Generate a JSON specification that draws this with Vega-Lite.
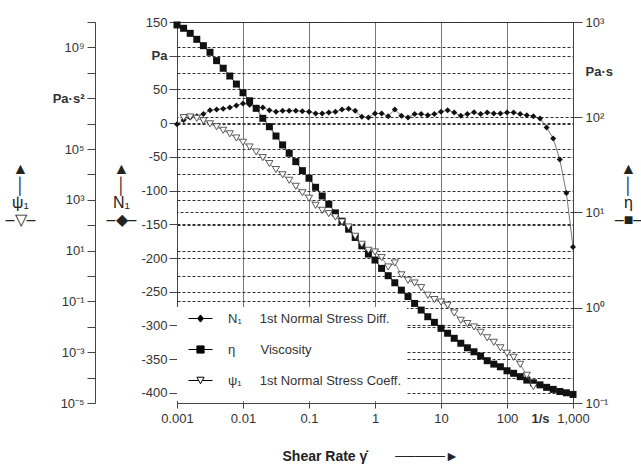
{
  "$schema": "https://vega.github.io/schema/vega-lite/v6.json",
  "width": 396,
  "height": 381,
  "autosize": {"type": "none"},
  "padding": {"left": 177, "top": 22, "right": 68, "bottom": 68},
  "background": "white",
  "datasets": {
    "n1": [
      {"rate": 0.001, "N1": -1.5}, {"rate": 0.001259, "N1": 4.5}, {"rate": 0.001585, "N1": 8.5}, {"rate": 0.001995, "N1": 10.4},
      {"rate": 0.002512, "N1": 13.4}, {"rate": 0.003162, "N1": 19.3}, {"rate": 0.003981, "N1": 20.3}, {"rate": 0.005012, "N1": 21.2},
      {"rate": 0.00631, "N1": 23.2}, {"rate": 0.007943, "N1": 26.2}, {"rate": 0.01, "N1": 29.2}, {"rate": 0.01259, "N1": 27.2},
      {"rate": 0.01585, "N1": 23.2}, {"rate": 0.01995, "N1": 23.2}, {"rate": 0.02512, "N1": 19.3}, {"rate": 0.03162, "N1": 16.8},
      {"rate": 0.03981, "N1": 18.3}, {"rate": 0.05012, "N1": 18.3}, {"rate": 0.0631, "N1": 18.3}, {"rate": 0.07943, "N1": 17.8},
      {"rate": 0.1, "N1": 16.8}, {"rate": 0.1259, "N1": 14.4}, {"rate": 0.1585, "N1": 14.4}, {"rate": 0.1995, "N1": 15.8},
      {"rate": 0.2512, "N1": 16.8}, {"rate": 0.3162, "N1": 20.3}, {"rate": 0.3981, "N1": 21.2}, {"rate": 0.5012, "N1": 18.3},
      {"rate": 0.631, "N1": 9.4}, {"rate": 0.7943, "N1": 8.5}, {"rate": 1, "N1": 14.4}, {"rate": 1.259, "N1": 14.4},
      {"rate": 1.585, "N1": 10.4}, {"rate": 1.995, "N1": 20.3}, {"rate": 2.512, "N1": 11}, {"rate": 3.162, "N1": 8.5},
      {"rate": 3.981, "N1": 13.4}, {"rate": 5.012, "N1": 13.4}, {"rate": 6.31, "N1": 11.9}, {"rate": 7.943, "N1": 13.4},
      {"rate": 10, "N1": 16.8}, {"rate": 12.59, "N1": 19.3}, {"rate": 15.85, "N1": 15.8}, {"rate": 19.95, "N1": 10.9},
      {"rate": 25.12, "N1": 13.4}, {"rate": 31.62, "N1": 16.3}, {"rate": 39.81, "N1": 13.4}, {"rate": 50.12, "N1": 15.8},
      {"rate": 63.1, "N1": 14.4}, {"rate": 79.43, "N1": 14.4}, {"rate": 100, "N1": 15.8}, {"rate": 125.9, "N1": 15.8},
      {"rate": 158.5, "N1": 13.4}, {"rate": 199.5, "N1": 11.9}, {"rate": 251.2, "N1": 10.4}, {"rate": 316.2, "N1": 7},
      {"rate": 398.1, "N1": -6.4}, {"rate": 501.2, "N1": -22.7}, {"rate": 631, "N1": -53.9}, {"rate": 794.3, "N1": -103.4},
      {"rate": 1000, "N1": -183.5}
    ],
    "eta": [
      {"rate": 0.001, "eta": 931}, {"rate": 0.001259, "eta": 859}, {"rate": 0.001585, "eta": 760}, {"rate": 0.001995, "eta": 658},
      {"rate": 0.002512, "eta": 564}, {"rate": 0.003162, "eta": 481}, {"rate": 0.003981, "eta": 393}, {"rate": 0.005012, "eta": 327},
      {"rate": 0.00631, "eta": 271}, {"rate": 0.007943, "eta": 223}, {"rate": 0.01, "eta": 181}, {"rate": 0.01259, "eta": 149},
      {"rate": 0.01585, "eta": 124}, {"rate": 0.01995, "eta": 97.5}, {"rate": 0.02512, "eta": 79.6}, {"rate": 0.03162, "eta": 63.5},
      {"rate": 0.03981, "eta": 51.2}, {"rate": 0.05012, "eta": 41.9}, {"rate": 0.0631, "eta": 34.2}, {"rate": 0.07943, "eta": 27.5},
      {"rate": 0.1, "eta": 22.9}, {"rate": 0.1259, "eta": 18.4}, {"rate": 0.1585, "eta": 14.9}, {"rate": 0.1995, "eta": 12.2},
      {"rate": 0.2512, "eta": 9.91}, {"rate": 0.3162, "eta": 8.11}, {"rate": 0.3981, "eta": 6.68}, {"rate": 0.5012, "eta": 5.47},
      {"rate": 0.631, "eta": 4.47}, {"rate": 0.7943, "eta": 3.66}, {"rate": 1, "eta": 3.17}, {"rate": 1.259, "eta": 2.59},
      {"rate": 1.585, "eta": 2.17}, {"rate": 1.995, "eta": 1.83}, {"rate": 2.512, "eta": 1.53}, {"rate": 3.162, "eta": 1.31},
      {"rate": 3.981, "eta": 1.11}, {"rate": 5.012, "eta": 0.946}, {"rate": 6.31, "eta": 0.805}, {"rate": 7.943, "eta": 0.703},
      {"rate": 10, "eta": 0.608}, {"rate": 12.59, "eta": 0.54}, {"rate": 15.85, "eta": 0.478}, {"rate": 19.95, "eta": 0.424},
      {"rate": 25.12, "eta": 0.38}, {"rate": 31.62, "eta": 0.345}, {"rate": 39.81, "eta": 0.311}, {"rate": 50.12, "eta": 0.278},
      {"rate": 63.1, "eta": 0.256}, {"rate": 79.43, "eta": 0.24}, {"rate": 100, "eta": 0.218}, {"rate": 125.9, "eta": 0.205},
      {"rate": 158.5, "eta": 0.189}, {"rate": 199.5, "eta": 0.174}, {"rate": 251.2, "eta": 0.163}, {"rate": 316.2, "eta": 0.155},
      {"rate": 398.1, "eta": 0.146}, {"rate": 501.2, "eta": 0.139}, {"rate": 631, "eta": 0.132}, {"rate": 794.3, "eta": 0.128},
      {"rate": 1000, "eta": 0.123}
    ],
    "psi": [
      {"rate": 0.001259, "psi": 1.72e6}, {"rate": 0.001585, "psi": 1.82e6}, {"rate": 0.001995, "psi": 1.62e6},
      {"rate": 0.002512, "psi": 1.29e6}, {"rate": 0.003162, "psi": 9.82e5}, {"rate": 0.003981, "psi": 7.48e5}, {"rate": 0.005012, "psi": 5.45e5},
      {"rate": 0.00631, "psi": 3.96e5}, {"rate": 0.007943, "psi": 2.71e5}, {"rate": 0.01, "psi": 1.84e5}, {"rate": 0.01259, "psi": 1.2e5},
      {"rate": 0.01585, "psi": 7.62e4}, {"rate": 0.01995, "psi": 4.58e4}, {"rate": 0.02512, "psi": 2.66e4}, {"rate": 0.03162, "psi": 1.55e4},
      {"rate": 0.03981, "psi": 9640}, {"rate": 0.05012, "psi": 5860}, {"rate": 0.0631, "psi": 3400}, {"rate": 0.07943, "psi": 1890},
      {"rate": 0.1, "psi": 1150}, {"rate": 0.1259, "psi": 607}, {"rate": 0.1585, "psi": 386}, {"rate": 0.1995, "psi": 286},
      {"rate": 0.2512, "psi": 210}, {"rate": 0.3162, "psi": 134}, {"rate": 0.3981, "psi": 84.9}, {"rate": 0.5012, "psi": 36.6},
      {"rate": 0.631, "psi": 17.7}, {"rate": 0.7943, "psi": 10.3}, {"rate": 1, "psi": 8.81}, {"rate": 1.259, "psi": 5.3},
      {"rate": 1.585, "psi": 2.26}, {"rate": 1.995, "psi": 3.25}, {"rate": 2.512, "psi": 1.11}, {"rate": 3.162, "psi": 0.678},
      {"rate": 3.981, "psi": 0.53}, {"rate": 5.012, "psi": 0.349}, {"rate": 6.31, "psi": 0.174}, {"rate": 7.943, "psi": 0.118},
      {"rate": 10, "psi": 0.0946}, {"rate": 12.59, "psi": 0.0702}, {"rate": 15.85, "psi": 0.0349}, {"rate": 19.95, "psi": 0.018},
      {"rate": 25.12, "psi": 0.0134}, {"rate": 31.62, "psi": 0.00982}, {"rate": 39.81, "psi": 0.00607}, {"rate": 50.12, "psi": 0.00369},
      {"rate": 63.1, "psi": 0.00245}, {"rate": 79.43, "psi": 0.00149}, {"rate": 100, "psi": 0.000906}, {"rate": 125.9, "psi": 0.00063},
      {"rate": 158.5, "psi": 0.000334}, {"rate": 199.5, "psi": 0.000123}, {"rate": 251.2, "psi": 0.0000443}
    ],
    "series": [{"series": "N1"}, {"series": "eta"}, {"series": "psi"}]
  },
  "encoding": {
    "x": {
      "field": "rate",
      "type": "quantitative",
      "scale": {"type": "log", "domain": [0.001, 1000]},
      "axis": {
        "values": [0.001, 0.01, 0.1, 1, 10, 100, 316.2, 1000],
        "labelExpr": "datum.value > 300 && datum.value < 400 ? '1/s' : datum.value >= 1000 ? '1,000' : datum.value >= 1 ? format(datum.value, 'd') : format(datum.value, '~g')",
        "labelFontWeight": {"condition": {"test": "datum.value > 300 && datum.value < 400", "value": "bold"}, "value": "normal"},
        "tickColor": {"condition": {"test": "datum.value > 300 && datum.value < 400", "value": "transparent"}, "value": "#444"},
        "gridColor": {"condition": {"test": "datum.value > 300 && datum.value < 400", "value": "transparent"}, "value": "#777"},
        "grid": true,
        "gridDash": [],
        "gridWidth": 1,
        "tickSize": 5,
        "labelPadding": 4,
        "labelOverlap": false,
        "labelFlush": false,
        "title": "Shear Rate γ̇\u2003\u2003─────►",
        "titleFontSize": 14,
        "titleFontWeight": "bold",
        "titleAnchor": "start",
        "titleAlign": "left",
        "titleX": 105,
        "titleY": 57,
        "titleBaseline": "alphabetic"
      }
    }
  },
  "layer": [
    {
      "data": {"name": "n1"},
      "mark": {"type": "line", "color": "#555", "strokeWidth": 0.8, "point": {"filled": true, "shape": "diamond", "size": 36, "color": "#111"}},
      "encoding": {
        "y": {
          "field": "N1",
          "type": "quantitative",
          "scale": {"domain": [-415, 150], "nice": false, "zero": false},
          "axis": {
            "orient": "left",
            "values": [-400, -350, -300, -250, -200, -150, -100, -50, 0, 50, 100, 150],
            "labelExpr": "datum.value == 100 ? 'Pa' : '' + datum.value",
            "labelFontWeight": {"condition": {"test": "datum.value == 100", "value": "bold"}, "value": "normal"},
            "grid": true,
            "gridDash": [3, 2],
            "gridColor": "#333",
            "tickSize": 8,
            "labelPadding": 2,
            "title": ["▲", "│", "\u00a0", "\u00a0", "N₁", "–◆–"],
            "titleAngle": 0,
            "titleAlign": "center",
            "titleBaseline": "alphabetic",
            "titleX": -56,
            "titleY": 151
          }
        }
      }
    },
    {
      "data": {"name": "eta"},
      "mark": {"type": "line", "color": "#333", "strokeWidth": 1, "point": {"filled": true, "shape": "square", "size": 49, "color": "#111"}},
      "encoding": {
        "y": {
          "field": "eta",
          "type": "quantitative",
          "scale": {"type": "log", "domain": [0.1, 1000], "nice": false},
          "axis": {
            "orient": "right",
            "values": [0.1, 1, 10, 100, 300, 1000],
            "labelExpr": "datum.value > 200 && datum.value < 400 ? 'Pa·s' : ['10⁻¹', '10⁰', '10¹', '10²', '10³'][round(log(datum.value) / LN10) + 1]",
            "labelFontWeight": {"condition": {"test": "datum.value > 200 && datum.value < 400", "value": "bold"}, "value": "normal"},
            "tickColor": {"condition": {"test": "datum.value > 200 && datum.value < 400", "value": "transparent"}, "value": "#444"},
            "gridColor": {"condition": {"test": "datum.value > 200 && datum.value < 400", "value": "transparent"}, "value": "#333"},
            "grid": true,
            "gridDash": [3, 2],
            "tickSize": 9,
            "labelPadding": 3,
            "title": ["▲", "│", "\u00a0", "\u00a0", "η", "–■–"],
            "titleAngle": 0,
            "titleAlign": "center",
            "titleBaseline": "alphabetic",
            "titleX": 55,
            "titleY": 151
          }
        }
      }
    },
    {
      "data": {"name": "psi"},
      "mark": {"type": "line", "color": "#666", "strokeWidth": 0.8, "point": {"filled": true, "shape": "triangle-down", "size": 50, "fill": "white", "stroke": "#333", "strokeWidth": 0.8}},
      "encoding": {
        "y": {
          "field": "psi",
          "type": "quantitative",
          "scale": {"type": "log", "domain": [1e-5, 1e10], "nice": false},
          "axis": {
            "orient": "left",
            "offset": 82,
            "values": [1e-5, 1e-4, 1e-3, 1e-2, 1e-1, 1, 10, 100, 1000, 1e4, 1e5, 1e6, 1e7, 1e8, 1e9, 1e10],
            "labelExpr": "['10⁻⁵', '', '10⁻³', '', '10⁻¹', '', '10¹', '', '10³', '', '10⁵', '', 'Pa·s²', '', '10⁹', ''][round(log(datum.value) / LN10) + 5]",
            "labelFontWeight": {"condition": {"test": "round(log(datum.value) / LN10) == 7", "value": "bold"}, "value": "normal"},
            "grid": true,
            "gridDash": [3, 2],
            "gridColor": "#333",
            "tickSize": 8,
            "labelPadding": 3,
            "title": ["▲", "│", "\u00a0", "\u00a0", "ψ₁", "–▽–"],
            "titleAngle": 0,
            "titleAlign": "center",
            "titleBaseline": "alphabetic",
            "titleX": -75,
            "titleY": 151
          }
        }
      }
    },
    {
      "data": {"name": "series"},
      "transform": [{"filter": "false"}],
      "mark": {"type": "point", "filled": true, "stroke": "black", "strokeWidth": 1},
      "encoding": {
        "shape": {
          "field": "series",
          "type": "nominal",
          "scale": {"domain": ["N1", "eta", "psi"], "range": ["M-2,0H-0.5M0.5,0H2M0,-0.6L0.5,0L0,0.6L-0.5,0Z", "M-2,0H-0.6M0.6,0H2M-0.6,-0.6H0.6V0.6H-0.6Z", "M-2,0H-0.32M0.32,0H2M-0.6,-0.55H0.6L0,0.55Z"]},
          "legend": {"title": "\u00a0", "symbolStrokeColor": "black", "symbolStrokeWidth": 1, "labelExpr": "datum.value == 'N1' ? 'N₁\u00a0\u00a0\u00a0\u00a0\u00a01st Normal Stress Diff.' : datum.value == 'eta' ? 'η\u00a0\u00a0\u00a0\u00a0\u00a0\u00a0\u00a0Viscosity' : 'ψ₁\u00a0\u00a0\u00a0\u00a0\u00a01st Normal Stress Coeff.'"}
        },
        "fill": {
          "field": "series",
          "type": "nominal",
          "scale": {"domain": ["N1", "eta", "psi"], "range": ["black", "black", "white"]},
          "legend": {"title": "\u00a0", "symbolStrokeColor": "black", "symbolStrokeWidth": 1, "labelExpr": "datum.value == 'N1' ? 'N₁\u00a0\u00a0\u00a0\u00a0\u00a01st Normal Stress Diff.' : datum.value == 'eta' ? 'η\u00a0\u00a0\u00a0\u00a0\u00a0\u00a0\u00a0Viscosity' : 'ψ₁\u00a0\u00a0\u00a0\u00a0\u00a01st Normal Stress Coeff.'"}
        },
        "stroke": {
          "field": "series",
          "type": "nominal",
          "scale": {"domain": ["N1", "eta", "psi"], "range": ["black", "black", "black"]},
          "legend": {"title": "\u00a0", "symbolStrokeColor": "black", "symbolStrokeWidth": 1, "labelExpr": "datum.value == 'N1' ? 'N₁\u00a0\u00a0\u00a0\u00a0\u00a01st Normal Stress Diff.' : datum.value == 'eta' ? 'η\u00a0\u00a0\u00a0\u00a0\u00a0\u00a0\u00a0Viscosity' : 'ψ₁\u00a0\u00a0\u00a0\u00a0\u00a01st Normal Stress Coeff.'"}
        }
      }
    }
  ],
  "resolve": {"scale": {"y": "independent"}},
  "config": {
    "view": {"stroke": "#666", "strokeWidth": 1},
    "font": "Liberation Sans",
    "axis": {
      "labelFont": "Liberation Sans",
      "labelFontSize": 13,
      "labelColor": "#333",
      "tickColor": "#444",
      "domainColor": "#444",
      "titleFont": "Liberation Sans",
      "titleFontSize": 16,
      "titleColor": "#222",
      "titleFontWeight": "normal",
      "titleLineHeight": 17
    },
    "legend": {
      "orient": "none",
      "legendX": 0,
      "legendY": 285,
      "padding": 5,
      "fillColor": "white",
      "rowPadding": 17,
      "symbolSize": 144,
      "symbolOffset": 12,
      "labelOffset": 21,
      "labelFont": "Liberation Sans",
      "labelFontSize": 13,
      "labelColor": "#333",
      "labelLimit": 400,
      "titleOrient": "bottom",
      "titleFontSize": 8,
      "titlePadding": 0,
      "symbolStrokeColor": "black",
      "symbolStrokeWidth": 1,
      "symbolOpacity": 1
    }
  }
}
